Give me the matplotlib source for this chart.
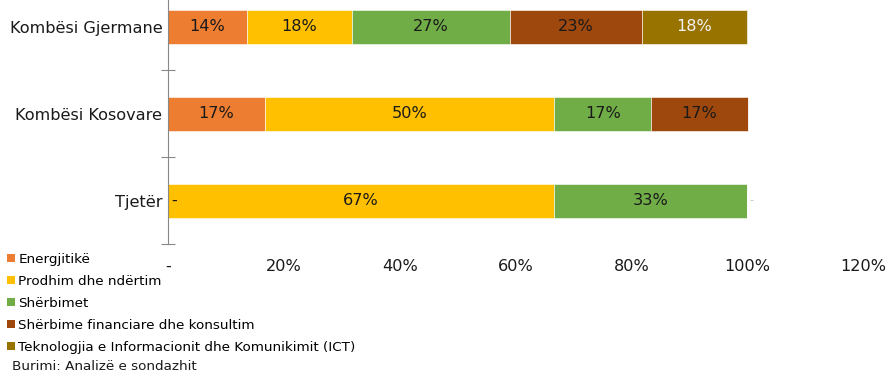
import matplotlib
matplotlib.use("Agg")
import matplotlib.pyplot as plt
from matplotlib.patches import Patch
import numpy as np

plt.rcParams['font.family'] = ['DejaVu Sans']

categories = ["Kombësi Gjermane", "Kombësi Kosovare", "Tjetër"]
series_names = [
    "Energjitikë",
    "Prodhim dhe ndërtim",
    "Shërbimet",
    "Shërbime financiare dhe konsultim",
    "Teknologjia e Informacionit dhe Komunikimit (ICT)",
]
# shares per category, in the order of series_names
energjitike = [0.136, 0.167, 0.0]
prodhim = [0.182, 0.500, 0.667]
sherbimet = [0.273, 0.167, 0.333]
financiare = [0.227, 0.167, 0.0]
ict = [0.182, 0.0, 0.0]
series_values = [energjitike, prodhim, sherbimet, financiare, ict]

colors = ["#ED7D31", "#FFC000", "#70AD47", "#9E480E", "#997300"]
label_colors = ["#1a1a1a", "#1a1a1a", "#1a1a1a", "#1a1a1a", "#f2f2f2"]

x_ticks = [0, 0.2, 0.4, 0.6, 0.8, 1.0, 1.2]
x_tick_labels = ["-", "20%", "40%", "60%", "80%", "100%", "120%"]

AX_FS = 11.6
LEG_FS = 9.7

W, H = 886, 374
fig = plt.figure(figsize=(W / 100, H / 100), dpi=100)
ax_left, ax_right = 168, 863
ax_bottom_px, ax_top_px = 244, -16.5
ax = fig.add_axes([ax_left / W, (H - ax_bottom_px) / H,
                   (ax_right - ax_left) / W, (ax_bottom_px - ax_top_px) / H])

y = np.arange(len(categories))
left = np.zeros(len(categories))
for name, vals, col, lc in zip(series_names, series_values, colors, label_colors):
    vals = np.array(vals)
    ax.barh(y, vals, left=left, height=0.39, color=col, label=name,
            edgecolor="white", linewidth=0.4)
    for i, v in enumerate(vals):
        if v > 0:
            ax.text(left[i] + v / 2, y[i], f"{v * 100:.0f}%", ha="center",
                    va="center", fontsize=AX_FS, color=lc)
    left += vals

# zero-value markers in the last row
ax.text(0.006, 2, "-", ha="left", va="center", fontsize=AX_FS, color="#1a1a1a")
ax.text(1.004, 2, "-", ha="left", va="center", fontsize=8, color="#bfbfbf")

ax.set_xlim(0, 1.2)
ax.set_ylim(2.5, -0.5)
ax.set_yticks(y)
ax.set_yticklabels(categories, fontsize=AX_FS, color="#1a1a1a")
ax.set_yticks([0.5, 1.5, 2.5], minor=True)
ax.tick_params(axis="y", which="major", length=0, pad=4)
ax.tick_params(axis="y", which="minor", length=10, direction="inout",
               color="#888888", width=0.8)
ax.set_xticks(x_ticks)
ax.set_xticklabels(x_tick_labels, fontsize=AX_FS, color="#1a1a1a")
ax.tick_params(axis="x", length=0, pad=11)
for s in ["top", "right", "bottom"]:
    ax.spines[s].set_visible(False)
ax.spines["left"].set_color("#888888")
ax.spines["left"].set_linewidth(0.8)

handles = [Patch(facecolor=c, edgecolor="none") for c in colors]
fig.legend(handles, series_names, loc="upper left",
           bbox_to_anchor=(3 / W, (H - 248.5) / H), frameon=False,
           fontsize=LEG_FS, handlelength=0.6, handleheight=0.6,
           handletextpad=0.25, labelspacing=0.67, borderaxespad=0,
           borderpad=0.3)

fig.text(12 / W, (H - 367) / H, "Burimi: Analizë e sondazhit", fontsize=LEG_FS,
         ha="left", va="center", color="#1a1a1a")

fig.savefig("out.png", dpi=100)
